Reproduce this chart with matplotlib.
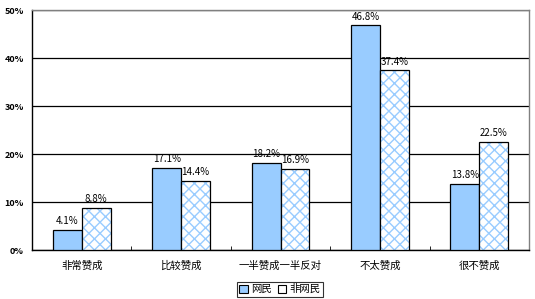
import matplotlib.pyplot as plt
import numpy as np

plt.rcParams['font.family'] = ['Noto Sans CJK SC', 'DejaVu Sans']

categories = ['非常赞成', '比较赞成', '一半赞成一半反对', '不太赞成', '很不赞成']
netizen = [4.1, 17.1, 18.2, 46.8, 13.8]
non_netizen = [8.8, 14.4, 16.9, 37.4, 22.5]
series_names = ['网民', '非网民']

blue = '#99CCFF'
x = np.arange(len(categories))
w = 0.29

fig = plt.figure(figsize=(5.35, 2.99), dpi=100)
ax = fig.add_axes([32 / 535, 49 / 299, 497 / 535, 240 / 299])

ax.bar(x - w / 2, netizen, w, color=blue, edgecolor='black', linewidth=0.9, zorder=3)
ax.bar(x + w / 2, non_netizen, w, color='white', edgecolor=blue, hatch='xxx',
       linewidth=0, zorder=3)
ax.bar(x + w / 2, non_netizen, w, color='none', edgecolor='black', linewidth=0.9, zorder=4)

for xi, v in zip(x - w / 2, netizen):
    ax.text(xi, v + 0.8, f'{v:.1f}%', ha='center', va='bottom', fontsize=7, zorder=5)
for xi, v in zip(x + w / 2, non_netizen):
    ax.text(xi, v + 0.8, f'{v:.1f}%', ha='center', va='bottom', fontsize=7, zorder=5)

ax.set_xlim(-0.5, len(categories) - 0.5)
ax.set_ylim(0, 50)
ax.set_yticks(range(0, 51, 10))
ax.set_yticklabels([f'{t}%' for t in range(0, 51, 10)], fontsize=6.5, fontweight='bold')
ax.yaxis.grid(True, color='black', linewidth=0.9, zorder=1)
ax.tick_params(axis='y', length=0, pad=6)

ax.set_xticks(x)
ax.set_xticklabels(categories, fontsize=7.5)
ax.tick_params(axis='x', length=0, pad=8)
ax.set_xticks(np.arange(-0.5, len(categories)), minor=True)
ax.tick_params(axis='x', which='minor', direction='in', length=3, color='black')

for s in ['left', 'bottom']:
    ax.spines[s].set_color('black')
    ax.spines[s].set_linewidth(1)
for s in ['top', 'right']:
    ax.spines[s].set_color('#808080')
    ax.spines[s].set_linewidth(1)

from matplotlib.patches import Patch
handles = [Patch(facecolor=blue, edgecolor='black', linewidth=0.8),
           Patch(facecolor='white', edgecolor='black', linewidth=0.8)]
leg = fig.legend(handles, series_names, loc='lower center', bbox_to_anchor=(280 / 535, 0.0),
                 ncol=2, fontsize=7.5, frameon=True, fancybox=False, edgecolor='black',
                 handlelength=0.8, handleheight=0.8, handletextpad=0.3, columnspacing=0.6,
                 borderpad=0.25, borderaxespad=0.2)
leg.get_frame().set_linewidth(0.8)

fig.savefig('out.png', dpi=100)
